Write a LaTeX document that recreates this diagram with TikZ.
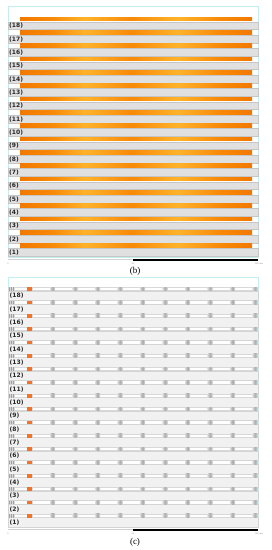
\documentclass[tikz,border=0pt]{standalone}
\usepackage{fontspec}
\setmainfont{Liberation Serif}
\newfontfamily\labfont{DejaVu Sans}
\definecolor{frameC}{HTML}{C4EEEE}
\definecolor{rowB}{HTML}{E0E0E0}
\definecolor{rowBd}{HTML}{C6C6C6}
\definecolor{rowC}{HTML}{F1F1F1}
\definecolor{rowCd}{HTML}{D4D4D4}
\definecolor{orA}{HTML}{F27800}
\definecolor{orB}{HTML}{F88A08}
\definecolor{orY}{HTML}{FFB22A}
\definecolor{orBlk}{HTML}{F07428}
\definecolor{gL}{HTML}{DCDCDC}
\definecolor{gD}{HTML}{A8A8A8}
\definecolor{stripBase}{HTML}{D8D8D8}
\definecolor{markC}{HTML}{B49A96}
\pgfdeclarehorizontalshading{orbar}{100bp}{color(0bp)=(orA); color(25bp)=(orA); color(32bp)=(orB); color(39bp)=(orY); color(49bp)=(orB); color(59bp)=(orY); color(68bp)=(orB); color(75bp)=(orA); color(100bp)=(orA)}
\pgfdeclarehorizontalshading{gblk}{100bp}{color(0bp)=(gL); color(25bp)=(gL); color(50bp)=(gD); color(75bp)=(gL); color(100bp)=(gL)}
\tikzset{
  panelframe/.style={draw=frameC, line width=0.6pt},
  rowb/.style={fill=rowB, draw=rowBd, line width=0.4pt},
  rowc/.style={fill=rowC, draw=rowCd, line width=0.4pt},
  orbarstyle/.style={shading=orbar},
  rowlabel/.style={font=\labfont\bfseries\fontsize{6}{6}\selectfont, anchor=west, inner sep=0pt, text=black!85},
  ticklabel/.style={font=\labfont\fontsize{2}{2}\selectfont, inner sep=0pt, text=black!45},
  caption/.style={font=\fontsize{9}{9}\selectfont, inner sep=0pt},
  gblock/.style={shading=gblk},
  markline/.style={draw=markC, line width=0.6pt},
}
\begin{document}
\begin{tikzpicture}[x=1pt,y=-1pt]
\useasboundingbox (0,0) rectangle (271,550);
\fill[white] (0,0) rectangle (271,550);
% ---------- panel (b) ----------
\draw[panelframe] (8,6) rectangle (258,257);
\foreach \k in {0,...,17}{
  \pgfmathsetmacro{\yo}{17.3+13.333*\k}
  \pgfmathsetmacro{\yr}{22+13.333*\k}
  \pgfmathtruncatemacro{\n}{18-\k}
  \shade[orbarstyle] (20,\yo) rectangle (252,\yo+3.5);
  \draw[rowb] (8,\yr) rectangle (258,\yr+7.5);
  \node[rowlabel] (lb\n) at (9,\yr+3.8) {(\n)};
}
% scale bar b
\draw[black!18, line width=0.8pt] (8,259.5) -- (133,259.5);
\fill[black] (133,258.6) rectangle (258,260.8);
\node[ticklabel] (tb0) at (8,264) {0};
\node[ticklabel] (tb1) at (133,264) {50};
\node[ticklabel] (tb2) at (259,264) {100 mm};
\node[caption] (capb) at (135,271.5) {(b)};
% ---------- panel (c) ----------
\draw[panelframe] (8,277.3) rectangle (258,527.5);
\foreach \k in {0,...,17}{
  \pgfmathsetmacro{\ys}{287.3+13.333*\k}
  \pgfmathtruncatemacro{\n}{18-\k}
  % row
  \draw[rowc] (8,\ys+3.6) rectangle (258,\ys+13.333);
  % strip base
  \fill[stripBase] (8,\ys) rectangle (258,\ys+3.6);
  \fill[white] (15,\ys+0.7) rectangle (26.5,\ys+2.9);
  \fill[white] (32.5,\ys+0.7) rectangle (50,\ys+2.9);
  \foreach \j in {0,...,8}{
    \fill[white] ({55+22.5*\j},\ys+0.7) rectangle ({72.5+22.5*\j},\ys+2.9);
  }
  % marker
  \foreach \mx in {9.5,11.5,13.5}{
    \draw[markline] (\mx,\ys) -- (\mx,\ys+3.6);
  }
  % orange block
  \fill[orBlk] (27,\ys) rectangle (32,\ys+3.6);
  % gray blocks
  \foreach \j in {0,...,9}{
    \shade[gblock] ({50+22.5*\j},\ys) rectangle ({55+22.5*\j},\ys+3.6);
  }
  \node[rowlabel] (lc\n) at (9.5,\ys+8.8) {(\n)};
}
% scale bar c
\draw[black!18, line width=0.8pt] (8,529.5) -- (133,529.5);
\fill[black] (133,528.6) rectangle (258,530.8);
\node[ticklabel] (tc0) at (8,534) {0};
\node[ticklabel] (tc1) at (133,534) {50};
\node[ticklabel] (tc2) at (259,534) {100 mm};
\node[caption] (capc) at (135,542.5) {(c)};
\end{tikzpicture}
\end{document}
